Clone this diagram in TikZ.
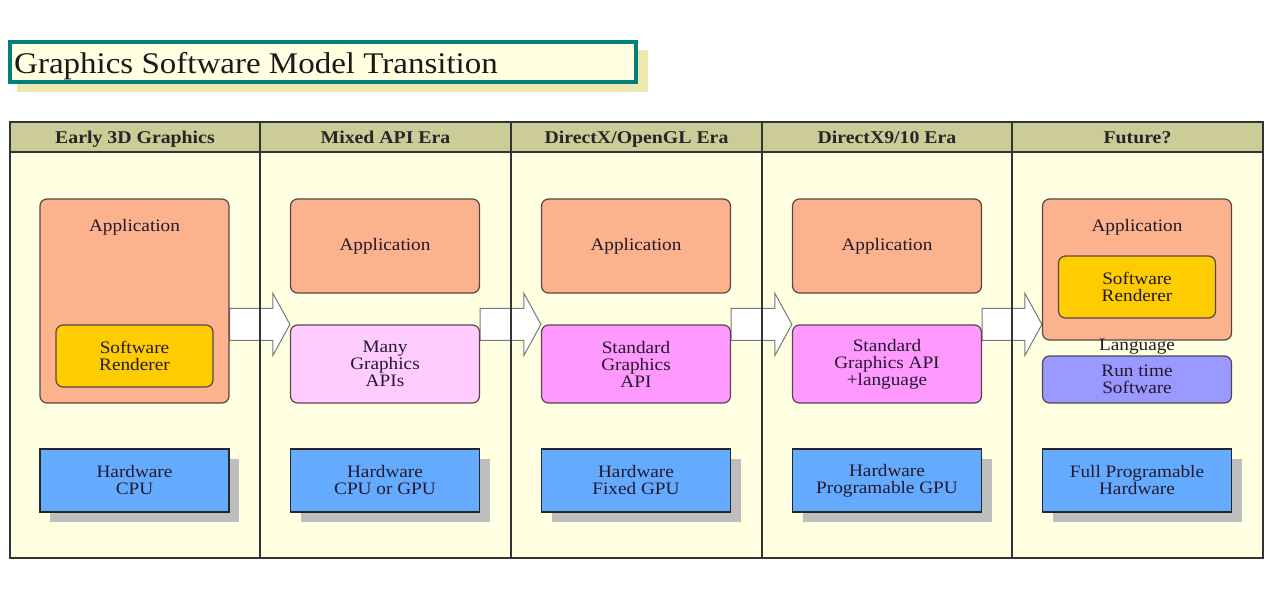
\documentclass[tikz,border=0pt]{standalone}
\usepackage{fontspec}
\setmainfont{Liberation Serif}[FakeStretch=1.1]
\usetikzlibrary{calc,shadows}
\pgfdeclarelayer{back}
\pgfdeclarelayer{mid}
\pgfsetlayers{back,mid,main}
\definecolor{hdr}{RGB}{204,204,153}
\definecolor{bodyc}{RGB}{255,255,226}
\definecolor{appc}{RGB}{252,178,140}
\definecolor{swc}{RGB}{255,204,0}
\definecolor{manyc}{RGB}{255,204,255}
\definecolor{stdc}{RGB}{255,153,255}
\definecolor{rtc}{RGB}{153,153,255}
\definecolor{hwc}{RGB}{100,170,255}
\definecolor{shd}{RGB}{190,190,190}
\definecolor{tealb}{RGB}{0,128,120}
\definecolor{tshd}{RGB}{238,232,176}
\definecolor{edgec}{RGB}{85,70,75}
\definecolor{txtc}{RGB}{35,25,45}
\definecolor{arrc}{RGB}{120,120,120}
\newcommand\bxfont{\fontsize{17.5}{17}\selectfont}
\newcommand\hdfont{\fontsize{18}{18}\selectfont\bfseries}
\newcommand\blockarrow[3]{%
  \path[blockarr] let \p1=(#1.east), \p2=(#2.west), \p3=(#3.north) in
  (\x1,\y3+16pt) -- (\x2-17pt,\y3+16pt) -- (\x2-17pt,\y3+31pt) -- (\x2,\y3)
  -- (\x2-17pt,\y3-31pt) -- (\x2-17pt,\y3-16pt) -- (\x1,\y3-16pt) -- cycle;}
\begin{document}
\begin{tikzpicture}[x=1pt,y=-1pt,
  box/.style={draw=edgec, line width=1.2pt, rounded corners=7pt, inner sep=0pt,
    align=center, text=txtc, font=\bxfont, minimum width=189pt},
  appbox/.style={box, fill=appc},
  swbox/.style={box, fill=swc, minimum width=157pt, minimum height=62pt},
  manybox/.style={box, fill=manyc, minimum height=78pt},
  stdbox/.style={box, fill=stdc, minimum height=78pt},
  rtbox/.style={box, fill=rtc, minimum height=47pt},
  hwbox/.style={draw=black!85, line width=1.2pt, fill=hwc, inner sep=0pt,
    minimum width=189pt, minimum height=63pt, align=center, text=txtc, font=\bxfont,
    general shadow={fill=shd, shadow xshift=10pt, shadow yshift=-10pt}},
  lbl/.style={text=txtc, font=\bxfont, align=center, inner sep=0pt},
  hd/.style={text=black!85, font=\hdfont, inner sep=0pt, anchor=base},
  blockarr/.style={draw=arrc, line width=1pt, fill=white},
  grid/.style={draw=black!80, line width=1.2pt}
]
\useasboundingbox (0,0) rectangle (1280,614);

% title
\fill[tshd] (17,50) rectangle (648,92);
\draw[tealb, line width=3.5pt, fill=bodyc] (10,42) rectangle (636,82);
\node[anchor=base west, inner sep=0pt, font=\fontsize{30}{30}\selectfont, text=black!90] (title) at (14,73) {Graphics Software Model Transition};

% table background
\begin{pgfonlayer}{back}
\fill[bodyc] (10,152) rectangle (1263,558);
\fill[hdr] (10,122) rectangle (1263,152);
\end{pgfonlayer}

\node[hd] (h1) at (135,143) {Early 3D Graphics};
\node[hd] (h2) at (385.5,143) {Mixed API Era};
\node[hd] (h3) at (636.5,143) {DirectX/OpenGL Era};
\node[hd] (h4) at (887,143) {DirectX9/10 Era};
\node[hd] (h5) at (1137.5,143) {Future?};

% column 1
\node[appbox, minimum height=204pt] (app1) at (134.5,301) {};
\node[lbl] (app1t) at (134.5,227) {Application};
\node[swbox] (sw1) at (134.5,356) {Software\\Renderer};
\node[hwbox] (hw1) at (134.5,480.5) {Hardware\\CPU};

% column 2
\node[appbox, minimum height=94pt] (app2) at (385,246) {Application};
\node[manybox] (m2) at (385,364) {Many\\Graphics\\APIs};
\node[hwbox] (hw2) at (385,480.5) {Hardware\\CPU or GPU};

% column 3
\node[appbox, minimum height=94pt] (app3) at (636,246) {Application};
\node[stdbox] (m3) at (636,364) {Standard\\Graphics\\API};
\node[hwbox] (hw3) at (636,480.5) {Hardware\\Fixed GPU};

% column 4
\node[appbox, minimum height=94pt] (app4) at (887,246) {Application};
\node[stdbox] (m4) at (887,364) {Standard\\Graphics API\\+language};
\node[hwbox] (hw4) at (887,480.5) {Hardware\\Programable GPU};

% column 5
\node[appbox, minimum height=141pt] (app5) at (1137,269.5) {};
\node[lbl] (app5t) at (1137,227) {Application};
\node[swbox] (sw5) at (1137,287) {Software\\Renderer};
\node[rtbox] (rt5) at (1137,379.5) {Run time\\Software};
\node[lbl] (lang5) at (1137,347) {Language};

\node[hwbox] (hw5) at (1137,480.5) {Full Programable\\Hardware};

% arrows and grid lines, below the boxes
\begin{pgfonlayer}{mid}
\blockarrow{app1}{m2}{m2}
\blockarrow{m2}{m3}{m3}
\blockarrow{m3}{m4}{m4}
\blockarrow{m4}{app5}{m4}
\draw[grid] (10,152) -- (1263,152);
\draw[grid] (260,122) -- (260,558);
\draw[grid] (511,122) -- (511,558);
\draw[grid] (762,122) -- (762,558);
\draw[grid] (1012,122) -- (1012,558);
\draw[grid] (10,122) rectangle (1263,558);
\end{pgfonlayer}
\end{tikzpicture}
\end{document}
